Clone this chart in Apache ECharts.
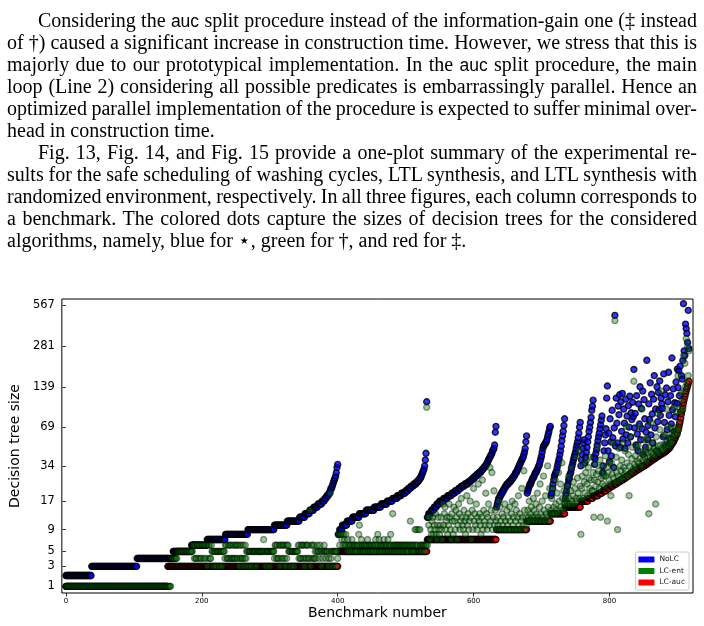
<!DOCTYPE html>
<html>
<head>
<meta charset="utf-8">
<script src="https://cdn.jsdelivr.net/npm/echarts@6/dist/echarts.min.js"></script>
<style>
html, body { margin: 0; padding: 0; background: #fff; }
#chart { position: absolute; left: 0; top: 0; width: 704px; height: 626px; }
#text {
  position: absolute; left: 7px; top: 9px; width: 690px; z-index: 2;
  font-family: "Liberation Serif", "Times New Roman", serif;
  font-size: 20px; line-height: 22px; color: #000;
}
.ln { white-space: nowrap; height: 22px; }
.ind { padding-left: 31px; }
.sf { font-family: "Liberation Sans", sans-serif; font-size: 17.5px; }
</style>
</head>
<body>
<div id="chart"></div>
<div id="text">
  <div class="ln ind j"><span>Considering the <span class="sf">auc</span> split procedure instead of the information-gain one (‡ instead</span></div>
  <div class="ln j"><span>of †) caused a significant increase in construction time. However, we stress that this is</span></div>
  <div class="ln j"><span>majorly due to our prototypical implementation. In the <span class="sf">auc</span> split procedure, the main</span></div>
  <div class="ln j"><span>loop (Line 2) considering all possible predicates is embarrassingly parallel. Hence an</span></div>
  <div class="ln j"><span>optimized parallel implementation of the procedure is expected to suffer minimal over-</span></div>
  <div class="ln"><span>head in construction time.</span></div>
  <div class="ln ind j"><span>Fig. 13, Fig. 14, and Fig. 15 provide a one-plot summary of the experimental re-</span></div>
  <div class="ln j"><span>sults for the safe scheduling of washing cycles, LTL synthesis, and LTL synthesis with</span></div>
  <div class="ln j"><span>randomized environment, respectively. In all three figures, each column corresponds to</span></div>
  <div class="ln j"><span>a benchmark. The colored dots capture the sizes of decision trees for the considered</span></div>
  <div class="ln"><span>algorithms, namely, blue for ⋆, green for †, and red for ‡.</span></div>
</div>
<script>
// tick labels
var xTicks = [0, 200, 400, 600, 800]
var yTicks = [1, 3, 5, 9, 17, 34, 69, 139, 281, 567]

// tree sizes per benchmark, [value, count] = a run of equal values
var nolcSizes = [
  [2, 38], [3, 67], [4, 53], [5, 27], [6, 23], [7, 27], [8, 33], [9, 39], [10, 19], [11, 18],
  [12, 8], [13, 7], [14, 6], [15, 6], [16, 6], [17, 4], [18, 3], [19, 3], [20, 2],
  21, 22, 22, 23, 24, 25, 26, 27, 28, 30, 33, 35,
  [8, 2], [9, 4], [10, 7], [11, 8], [12, 10], [13, 10], [14, 12], [15, 10], [16, 9], [17, 8],
  [18, 7], [19, 6], [20, 6], [21, 4], [22, 4], [23, 4], [24, 4], [25, 3], [26, 2], [27, 2],
  28, 29, 30, 31, 32, 34, 38, 43, 108,
  [12, 2], [13, 4], [14, 4], [15, 4], [16, 4], [17, 6], [18, 6], [19, 6], [20, 5], [21, 5],
  [22, 4], [23, 5], [24, 5], [25, 4], [26, 3], [27, 3], [28, 3], [29, 3], [30, 3],
  [31, 2], [32, 2], [33, 2], [34, 2],
  35, 36, 37, 38, 39, 40, 41, 42, 43, 45, 46, 47, 50, 63, 70,
  15, 16, 17, 18, 18, 19, 19, 20, 20, 21, 21, 22, 22, 23, 23, 24, 24, 24, 25, 25,
  25, 26, 26, 27, 27, 28, 28, 29, 30, 30, 31, 32, 33, 34, 35, 36, 37, 38, 39, 40,
  42, 44, 47, 53, 59,
  20, 21, 22, 23, 24, 24, 25, 26, 27, 27, 28, 29, 30, 30, 31, 32, 33, 34, 35, 37,
  39, 41, 44, 47, 49, 50, 51, 52, 53, 55, 58, 61, 64, 68, 70,
  19, 20, 22, 24, 26, 28, 29, 30, 31, 33, 35, 37, 39, 42, 45, 49, 54, 59, 64, 71, 80,
  18, 20, 21, 23, 24, 26, 27, 29, 30, 32, 34, 36, 38, 40, 42, 44, 47, 50, 53, 57, 62, 69, 75,
  34, 38, 42, 47, 52, 55, 36, 40, 44, 48, 53, 58, 64, 69, 75, 82, 93, 100, 111, 40,
  35, 39, 43, 46, 50, 54, 58, 62, 67, 72, 78, 84, 30, 34, 45, 52, 60, 67, 115, 142,
  45, 62, 37, 80, 53, 41, 93, 57, 33, 68, 476, 49, 115, 74, 52, 100, 86, 122, 48, 108,
  64, 125, 56, 95, 74, 47, 113, 60, 84, 52, 101, 69, 119, 58, 89, 79, 107, 83, 189, 68,
  88, 50, 120, 61, 45, 104, 73, 140, 55, 96, 67, 130, 42, 112, 80, 48, 63, 221, 55, 71,
  104, 79, 150, 60, 123, 87, 52, 113, 170, 68, 95, 45, 140, 76, 127, 94, 155, 85, 115, 104,
  96, 58, 175, 75, 122, 50, 137, 66, 108, 180, 85, 56, 120, 73, 230, 94, 135, 64, 106, 83,
  152, 105, 190, 138, 185, 120, 200, 90, 170, 160, 220, 580, 260, 240, 410, 380, 350, 300, 518, 270
]

var entSizes = [
  [1, 155], [4, 9], [5, 23],
  6, 6, 4, 6, 4, 4, 6, 6, 4, 6, 6, 4, 4, 6, 6, 6, 4, 6, 4, 6, 6, 3, 4, 6, 6, 4, 4, 6,
  5, 5, 3, 5, 5, 5, 3, 5, 5, 5, 5, 3, 5, 5, 5, 3, 5, 5, 5, 4, 6,
  6, 4, 4, 6, 4, 6, 6, 4, 4, 6, 4, 6, 4, 4, 6, 6, 4, 6, 4, 3, 6, 4, 6, 4, 4, 6, 3, 4, 6, 4,
  5, 5, 3, 5, 5, 5, 5, 3, 5, 5, 5, 5, 5, 5, 3, 5, 5, 5, 5, 5, 5, 5, 5, 5, 5, 7, 5, 5, 3, 5,
  5, 5, 5, 5, 3, 5, 5, 5, 5, 5, 5,
  4, 6, 6, 4, 6, 4, 4, 6, 3, 6, 4, 6, 4, 6, 6, 4, 3, 6, 4, 6, 6,
  5, 5, 5, 3, 5, 5, 5, 5, 3, 5, 5, 5, 5, 5,
  6, 4, 6, 4, 4, 6, 6, 4, 6, 3, 4, 6, 4, 6, 6, 4, 4, 14, 3, 6, 4, 6, 4, 6, 4,
  5, 4, 5, 6, 5, 5, 4, 6, 5, 3, 5, 4, 5, 6, 5, 5, 4, 5, 5, 3, 4, 5, 20, 4, 5, 5, 3, 5, 5, 5,
  5, 3, 5, 4,
  8, 8, 6, 8, 8, 7, 8, 6, 8, 7, 6, 8,
  6, 5, 7, 6, 5, 6, 6, 5, 7, 6, 5, 6, 6, 5, 6, 5, 6, 6, 8, 10,
  6, 5, 7, 6, 6, 5, 6, 6, 5, 6, 6, 7, 5, 6, 6, 5, 6, 6, 5, 6,
  5, 6, 6, 7, 5, 6, 8, 6, 7, 5, 6, 6, 5, 6, 6, 7, 6, 5, 6, 6,
  6, 7, 5, 6, 6, 8, 6, 5, 13, 6, 6, 5, 6, 6, 5, 6, 6, 5, 6, 6,
  5, 6, 6, 5, 6, 6, 5, 6, 6, 5, 6, 5, 6, 6, 11, 6, 5, 6, 6, 5,
  6, 9, 6, 9, 6, 6, 9, 5, 9, 6, 6, 5, 6, 6, 6, 5, 6, 6, 98,
  6, 12, 10, 12, 7, 9, 8, 11, 12, 8, 10, 9, 13, 8, 7, 10, 12, 9, 8, 10,
  12, 9, 7, 16, 10, 13, 15, 9, 11, 12, 8, 10, 16, 12, 9, 7, 13, 11, 8, 15,
  11, 9, 14, 12, 7, 10, 16, 13, 9, 11, 18, 12, 10, 9, 14, 11, 8, 12, 19, 10,
  13, 9, 11, 17, 12, 7, 14, 9, 22, 11, 13, 10, 16, 9, 12, 24, 11, 13, 10, 8,
  12, 26, 9, 14, 11, 10, 20, 13, 9, 12, 16, 10, 33, 11, 14, 30, 9, 12, 21, 10, 14, 11,
  9, 12, 10, 17, 9, 15, 11, 9, 13, 10, 12, 9, 16, 11, 9, 14, 10, 12, 9, 15,
  11, 9, 13, 17, 10, 12, 9, 16, 11, 14, 9, 12, 19, 10, 13, 9, 11, 22, 12, 10, 31, 14, 9, 12, 10,
  11, 14, 12, 17, 11, 13, 15, 12, 11, 18, 14, 12, 11, 16, 13, 20, 12, 11, 15, 24,
  13, 11, 17, 12, 28, 14, 11, 19, 13, 12, 34, 15, 11, 22, 13,
  14, 18, 13, 22, 15, 13, 26, 16, 14, 20, 13, 30, 17, 14, 24, 15, 36, 18, 14, 21, 16,
  16, 19, 17, 23, 16, 28, 18, 16, 21, 33, 17, 19, 25, 16, 22, 40, 18, 17, 27, 20, 45, 18, 23,
  8, 22, 28, 18, 35, 25, 20, 30, 38, 24, 19, 33, 27, 22, 40, 26, 21, 21, 30, 12,
  26, 35, 23, 29, 48, 25, 31, 22, 38, 12, 27, 34, 24, 28, 29, 23, 41, 28, 33, 11,
  30, 26, 36, 24, 19, 36, 29, 52, 27, 33, 435, 25, 40, 30, 9, 28, 47, 26, 34, 31,
  38, 27, 52, 33, 29, 45, 31, 70, 36, 28, 42, 19, 34, 58, 30, 39, 48, 32, 154, 35,
  41, 33, 48, 37, 50, 36, 70, 39, 44, 34, 95, 42, 38, 55, 40, 44, 46, 37, 57, 43,
  13, 48, 40, 75, 44, 52, 42, 47, 47, 41, 16, 58, 45, 88, 49, 43, 66, 50, 130, 47,
  45, 46, 60, 51, 60, 48, 95, 53, 70, 49, 57, 52, 55, 68, 52, 62, 58, 98, 60, 68,
  64, 90, 61, 170, 66, 75, 95, 90, 125, 110, 95, 240, 130, 210, 140, 320, 150, 280, 170, 260
]

var aucSizes = [
  [1, 150], [3, 251], [5, 131], [7, 102], [9, 45], [11, 35], [13, 21], [15, 23],
  [17, 11], [18, 7], [19, 8], [20, 6], [21, 6], [22, 5], [23, 5], [24, 5], [25, 5], [26, 5],
  [27, 4], [28, 4], [29, 4], [30, 4], [31, 4], [32, 4], [33, 4], [34, 4],
  [35, 3], [36, 3], [37, 3], [38, 3], [39, 3], [40, 3], [41, 3], [42, 3], [43, 3], [44, 3],
  [45, 2], [46, 2], [47, 2],
  48, 49, 50, 51, 52, 53, 54, 56, 57, 59, 61, 63,
  66, 69, 72, 76, 81, 87, 93, 100, 106, 112, 118, 124, 130, 136, 142, 148, 154
]

// the y axis is spaced as log(size + 4)
var OFFSET = 4

function expand(list) {
  var out = []
  list.forEach(function (e) {
    if (Array.isArray(e)) {
      for (var i = 0; i < e[1]; i++) out.push(e[0])
    } else {
      out.push(e)
    }
  })
  return out
}

function toY(v) { return Math.log(v + OFFSET) }

function points(list) {
  return expand(list).map(function (v, i) { return [i, toY(v)] })
}

var yTickPos = yTicks.map(toY)
var font = 'DejaVu Sans'

var chart = echarts.init(document.getElementById('chart'))
chart.setOption({
  animation: false,
  backgroundColor: '#fff',
  grid: {
    left: 57, top: 299, width: 636, height: 294,
    show: true, borderColor: '#000', borderWidth: 1, backgroundColor: 'transparent'
  },
  xAxis: {
    type: 'value', min: -6, max: 923,
    name: 'Benchmark number', nameLocation: 'middle', nameGap: 13,
    nameTextStyle: { fontFamily: font, fontSize: 14, color: '#000' },
    axisLine: { show: false },
    splitLine: { show: false },
    axisTick: { show: true, length: 3.5, lineStyle: { color: '#000', width: 0.8 }, customValues: xTicks },
    axisLabel: { fontFamily: font, fontSize: 7, color: '#000', margin: 5, customValues: xTicks }
  },
  yAxis: {
    type: 'value', min: toY(0.47), max: toY(628),
    name: 'Decision tree size', nameLocation: 'middle', nameGap: 32,
    nameTextStyle: { fontFamily: font, fontSize: 14, color: '#000' },
    axisLine: { show: false },
    splitLine: { show: false },
    axisTick: { show: true, length: 3.5, lineStyle: { color: '#000', width: 0.8 }, customValues: yTickPos },
    axisLabel: {
      fontFamily: font, fontSize: 11.5, color: '#000', margin: 7, customValues: yTickPos,
      formatter: function (v) {
        var best = 0
        yTickPos.forEach(function (p, i) {
          if (Math.abs(p - v) < Math.abs(yTickPos[best] - v)) best = i
        })
        return String(yTicks[best])
      }
    }
  },
  legend: {
    orient: 'vertical', right: 15, bottom: 36,
    icon: 'rect', itemWidth: 16, itemHeight: 6, itemGap: 2.5,
    selectedMode: false,
    backgroundColor: '#fff', borderColor: '#ccc', borderWidth: 1, borderRadius: 2,
    padding: [3, 4, 3, 3],
    textStyle: { fontFamily: font, fontSize: 7.5, color: '#222', lineHeight: 9 },
    data: [
      { name: 'NoLC', itemStyle: { color: '#0000ff', borderWidth: 0, opacity: 1 } },
      { name: 'LC-ent', itemStyle: { color: '#008000', borderWidth: 0, opacity: 1 } },
      { name: 'LC-auc', itemStyle: { color: '#ff0000', borderWidth: 0, opacity: 1 } }
    ]
  },
  series: [
    {
      name: 'NoLC', type: 'scatter', data: points(nolcSizes),
      symbolSize: 6, silent: true, progressive: 0,
      itemStyle: { color: '#0000ff', borderColor: '#000', borderWidth: 1.4 }
    },
    {
      name: 'LC-auc', type: 'scatter', data: points(aucSizes),
      symbolSize: 6, silent: true, progressive: 0,
      itemStyle: { color: '#ff0000', borderColor: '#000', borderWidth: 1.4 }
    },
    {
      name: 'LC-ent', type: 'scatter', data: points(entSizes),
      symbolSize: 6, silent: true, progressive: 0,
      itemStyle: { color: 'rgba(0,128,0,0.5)', borderColor: 'rgba(0,0,0,0.5)', borderWidth: 1.4 }
    }
  ]
})

// stretch the word gaps so every full line fills the column
function justify() {
  document.querySelectorAll('.j').forEach(function (el) {
    var inner = el.firstElementChild
    inner.style.wordSpacing = '0px'
    var avail = 690 - (el.classList.contains('ind') ? 31 : 0)
    var w = inner.getBoundingClientRect().width
    var n = (inner.textContent.match(/ /g) || []).length
    if (n > 0) inner.style.wordSpacing = ((avail - w) / n) + 'px'
  })
}
justify()
if (document.fonts) document.fonts.ready.then(justify)
</script>
</body>
</html>
